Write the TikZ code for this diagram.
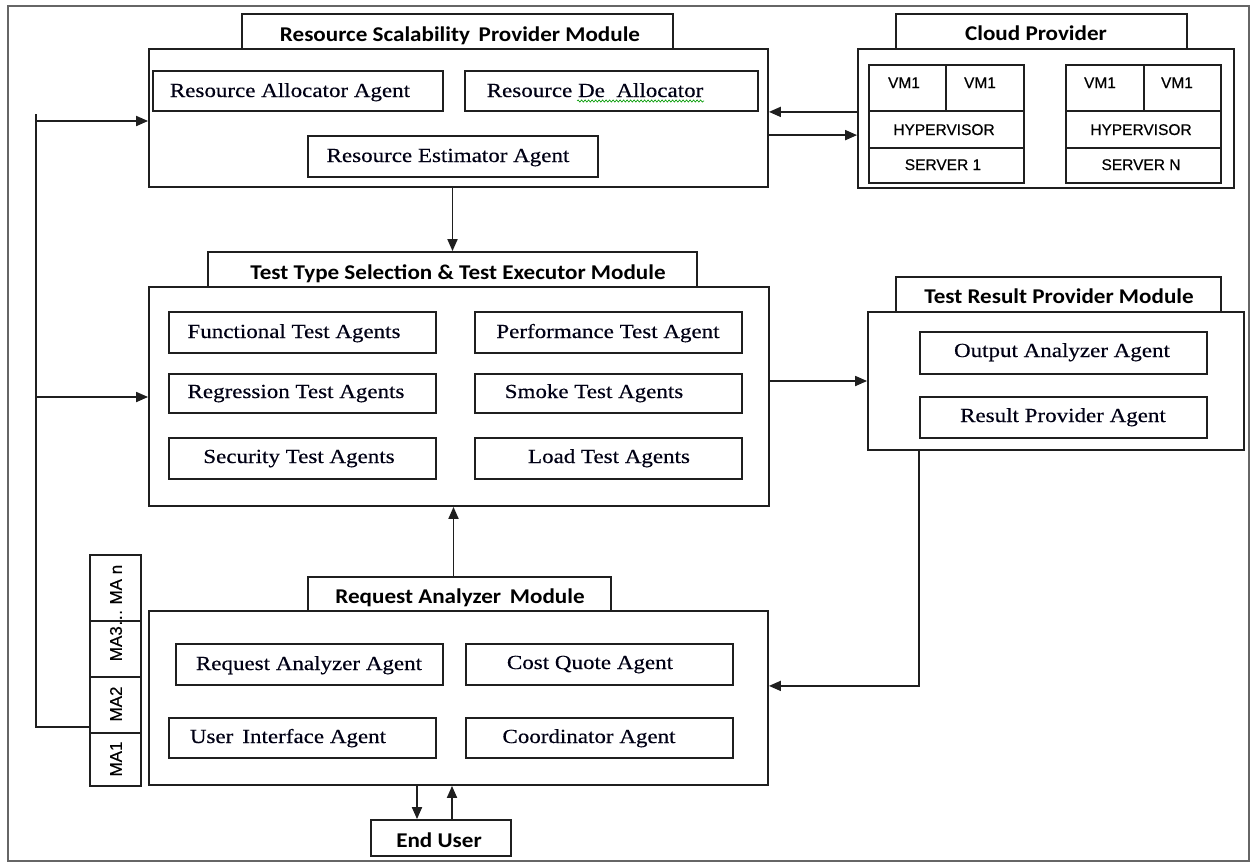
\documentclass[tikz,border=0pt]{standalone}
\usepackage{fontspec}
\setmainfont{Liberation Serif}
\newfontfamily\agentfont{Liberation Serif}[FakeStretch=1.15, FakeBold=0.4]
\newfontfamily\headfont{Carlito}[FakeStretch=1.1]
\newfontfamily\smallsans{Liberation Sans}[FakeBold=0.5]
\usetikzlibrary{arrows.meta,fit,decorations.pathmorphing}
\tikzset{
  boxst/.style={draw=black!88, line width=1.8pt, inner sep=0pt},
  frame/.style={draw=black!60, line width=1.8pt},
  agtext/.style={font=\agentfont\fontsize{20}{22}\selectfont, text=black!92!blue, inner sep=0pt, anchor=base},
  hdtext/.style={font=\headfont\bfseries\fontsize{21}{24}\selectfont, inner sep=0pt, anchor=base},
  vmtext/.style={font=\smallsans\fontsize{15.5}{18}\selectfont, inner sep=0pt, anchor=base},
  matext/.style={font=\smallsans\fontsize{17}{19}\selectfont, inner sep=0pt, rotate=90},
  conn/.style={draw=black!88, line width=1.8pt},
  arr/.style={conn, -{Triangle[length=12pt,width=10pt]}},
}
\newcommand\bx[5]{\node[boxst, fit={(#2,#3) (#4,#5)}] (#1) {};}
\newcommand\tx[5]{\node[#2] (#1) at (#3,#4) {#5};}
\begin{document}
\begin{tikzpicture}[x=1pt,y=-1pt]
\useasboundingbox (0,0) rectangle (1252,863);
\draw[frame] (8,6) rectangle (1249,861);

% Resource Scalability Provider Module
\bx{m1tab}{242}{14}{673}{49}
\bx{m1}{149}{49}{768}{187}
\tx{m1t}{hdtext}{460}{41}{Resource Scalability\, Provider Module}
\bx{a11}{153}{71}{443}{111}
\bx{a12}{465}{71}{758}{111}
\bx{a13}{308}{136}{598}{177}
\tx{a11t}{agtext}{290}{97}{Resource Allocator Agent}
\tx{a12t}{agtext}{595}{97}{Resource De\ \ Allocator}
\tx{a13t}{agtext}{448}{162}{Resource Estimator Agent}
\draw[green!60!black, line width=0.6pt, decorate, decoration={snake, amplitude=1.1pt, segment length=3.5pt}] (577,101) -- (704,101);

% Cloud Provider
\bx{cptab}{896}{14}{1187}{49}
\bx{cp}{858}{49}{1234}{188}
\tx{cpt}{hdtext}{1036}{40}{Cloud Provider}
\bx{s1a}{869}{65}{946}{111}
\bx{s1b}{946}{65}{1024}{111}
\bx{s1h}{869}{111}{1024}{148}
\bx{s1s}{869}{148}{1024}{183}
\bx{sna}{1066}{65}{1144}{111}
\bx{snb}{1144}{65}{1221}{111}
\bx{snh}{1066}{111}{1221}{148}
\bx{sns}{1066}{148}{1221}{183}
\tx{s1at}{vmtext}{904}{88}{VM1}
\tx{s1bt}{vmtext}{980}{88}{VM1}
\tx{s1ht}{vmtext}{944}{135}{HYPERVISOR}
\tx{s1st}{vmtext}{943}{170}{SERVER 1}
\tx{snat}{vmtext}{1100}{88}{VM1}
\tx{snbt}{vmtext}{1177}{88}{VM1}
\tx{snht}{vmtext}{1141}{135}{HYPERVISOR}
\tx{snst}{vmtext}{1141}{170}{SERVER N}

% Test Type Selection & Test Executor Module
\bx{m2tab}{208}{252}{697}{287}
\bx{m2}{149}{287}{769}{506}
\tx{m2t}{hdtext}{458}{279}{Test Type Selection \& Test Executor Module}
\bx{a21}{169}{312}{436}{353}
\bx{a22}{475}{312}{742}{353}
\bx{a23}{169}{374}{436}{413}
\bx{a24}{475}{374}{742}{413}
\bx{a25}{169}{438}{436}{479}
\bx{a26}{475}{438}{742}{479}
\tx{a21t}{agtext}{294}{338}{Functional Test Agents}
\tx{a22t}{agtext}{608}{338}{Performance Test Agent}
\tx{a23t}{agtext}{296}{398}{Regression Test Agents}
\tx{a24t}{agtext}{594}{398}{Smoke Test Agents}
\tx{a25t}{agtext}{299}{463}{Security Test Agents}
\tx{a26t}{agtext}{609}{463}{Load Test Agents}

% Test Result Provider Module
\bx{m3tab}{896}{277}{1221}{312}
\bx{m3}{868}{312}{1244}{450}
\tx{m3t}{hdtext}{1059}{303}{Test Result Provider Module}
\bx{a31}{920}{332}{1207}{374}
\bx{a32}{920}{397}{1207}{438}
\tx{a31t}{agtext}{1062}{357}{Output Analyzer Agent}
\tx{a32t}{agtext}{1063}{422}{Result Provider Agent}

% Request Analyzer Module
\bx{m4tab}{308}{577}{611}{611}
\bx{m4}{149}{611}{768}{785}
\tx{m4t}{hdtext}{460}{603}{Request Analyzer\, Module}
\bx{a41}{176}{644}{443}{685}
\bx{a42}{466}{644}{733}{685}
\bx{a43}{169}{718}{436}{758}
\bx{a44}{466}{718}{733}{758}
\tx{a41t}{agtext}{309}{670}{Request Analyzer Agent}
\tx{a42t}{agtext}{590}{669}{Cost Quote Agent}
\tx{a43t}{agtext}{288}{743}{User\, Interface Agent}
\tx{a44t}{agtext}{589}{743}{Coordinator Agent}

% End User
\bx{eu}{371}{820}{511}{856}
\tx{eut}{hdtext}{439}{847}{End User}

% Mobile agents stack
\bx{ma1}{90}{733}{141}{786}
\bx{ma2}{90}{677}{141}{733}
\bx{ma3}{90}{621}{141}{677}
\bx{man}{90}{555}{141}{621}
\tx{ma1t}{matext}{116}{759}{MA1}
\tx{ma2t}{matext}{116}{704}{MA2}
\tx{ma3t}{matext}{116}{613}{MA3\dots\ MA n}

% Connectors
\draw[arr] (m2tab.north |- m1.south) -- (m2tab.north);
\draw[arr] ([xshift=-6pt]m4tab.north) -- ([xshift=-6pt]m4tab.north |- m2.south);
\draw[arr] (m2.east |- m3.west) -- (m3.west);
\draw[arr] (a31.west |- m3.south) |- (m4.east |- a42.south);
\draw[arr] (cp.west |- a12.south) -- (m1.east |- a12.south);
\draw[arr] (m1.east |- a13.north) -- (cp.west |- a13.north);
\draw[arr] ([xshift=-24pt]eu.north |- m4.south) -- ([xshift=-24pt]eu.north);
\draw[arr] ([xshift=11pt]eu.north) -- ([xshift=11pt]eu.north |- m4.south);

\coordinate (bustop) at (36,114);
\coordinate (b1) at (36,121);
\coordinate (b2) at (36,397);
\coordinate (busbot) at (36,727);
\draw[conn] (bustop) -- (busbot) -- (busbot -| ma2.west);
\draw[arr] (b1) -- (b1 -| m1.west);
\draw[arr] (b2) -- (b2 -| m2.west);
\end{tikzpicture}
\end{document}
